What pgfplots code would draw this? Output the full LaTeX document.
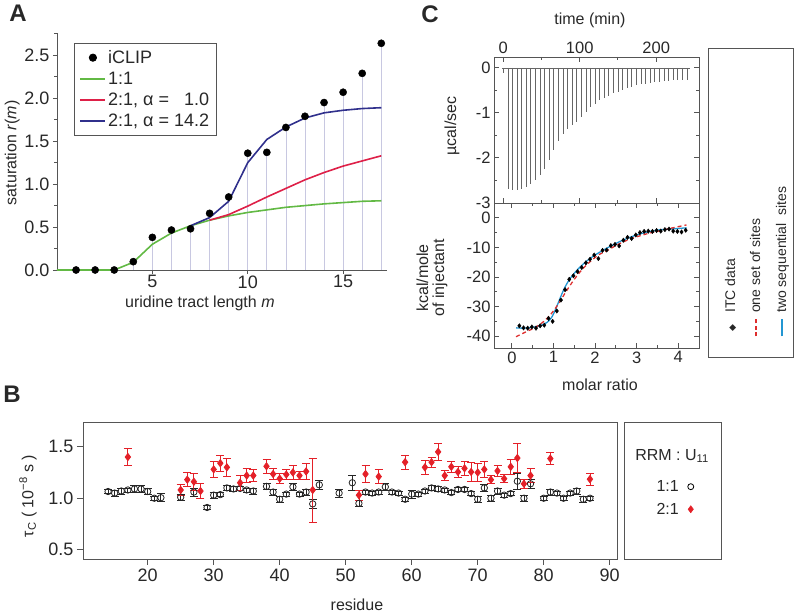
\documentclass[border=0pt]{standalone}
\usepackage{pgfplots}
\pgfplotsset{compat=1.18}
\usepackage{fontspec}
\setmainfont{Liberation Sans}
\setsansfont{Liberation Sans}
\newfontfamily\symfont{DejaVu Sans}
\definecolor{cgreen}{RGB}{98,185,68}
\definecolor{cred}{RGB}{222,32,72}
\definecolor{cblue}{RGB}{48,48,140}
\definecolor{cstem}{RGB}{200,200,225}
\definecolor{bred}{RGB}{228,32,40}
\definecolor{itcred}{RGB}{222,45,45}
\definecolor{itcblue}{RGB}{35,150,210}
\definecolor{fg}{RGB}{85,85,85}
\definecolor{tx}{RGB}{40,40,40}
\newcommand{\fs}[1]{\fontsize{#1}{#1}\selectfont}
\pgfplotsset{
  every axis/.append style={scale only axis, /pgf/number format/assume math mode=true,
    axis line style={fg, line width=0.9pt}, tick style={fg, line width=0.9pt},
    tick label style={text=tx, font=\fs{17}}, label style={text=tx, font=\fs{16}}},
  longline/.style={legend image code/.code={\draw[##1] (0pt,0pt) -- (25pt,0pt);}},
  dotleg/.style={legend image code/.code={\fill[##1] (12.5pt,0pt) circle (3.6pt);}},
}
\begin{document}
\begin{tikzpicture}
\path[use as bounding box] (0pt,0pt) rectangle (796pt,615pt);
\node[font=\fs{24}\bfseries, text=tx] at (18pt,602pt) {A};
\node[font=\fs{24}\bfseries, text=tx] at (12pt,221pt) {B};
\node[font=\fs{24}\bfseries, text=tx] at (430pt,601pt) {C};

% ---------------- Panel A ----------------
\begin{axis}[at={(57pt,345pt)}, anchor=south west, width=330pt, height=237pt,
  xmin=0, xmax=17.3, ymin=0, ymax=2.76,
  axis x line=bottom, axis y line=left, axis line style={-},
  clip=false,
  xtick={5,10,15}, xticklabels={5,10,15},
  ytick={0,0.5,1,1.5,2,2.5}, yticklabels={0.0,0.5,1.0,1.5,2.0,2.5},
  minor ytick={0.25,0.75,1.25,1.75,2.25,2.75},
  tick align=outside, major tick length=4pt, minor tick length=2.5pt,
  tick label style={font=\fs{18}},
  xticklabel style={yshift=2pt},
  xlabel={uridine tract length \textit{m}}, ylabel={saturation \textit{r}(\textit{m})},
  xlabel style={at={(axis description cs:0.433,-0.14)}, anchor=center},
  ylabel style={at={(axis description cs:-0.136,0.494)}, anchor=center},
  legend style={at={(axis description cs:0.052,0.958)}, anchor=north west, draw=fg, line width=0.9pt,
    font=\fs{18}, text=tx, row sep=3pt, inner xsep=5pt, inner ysep=5pt, cells={anchor=west}},
]
\addlegendimage{dotleg, black}\addlegendentry{iCLIP}
\addlegendimage{longline, cgreen, line width=1.6pt}\addlegendentry{1:1}
\addlegendimage{longline, cred, line width=1.6pt}\addlegendentry{2:1, α = \phantom{1}1.0}
\addlegendimage{longline, cblue, line width=1.6pt}\addlegendentry{2:1, α = 14.2}
\addplot[forget plot, ycomb, cstem, line width=0.8pt] coordinates {
 (4,0.097) (5,0.38) (6,0.465) (7,0.48) (8,0.66) (9,0.85) (10,1.36) (11,1.37)
 (12,1.66) (13,1.79) (14,1.95) (15,2.07) (16,2.29) (17,2.64)};
\addplot[forget plot, cgreen, line width=1.6pt] coordinates {
 (0,0) (3,0) (4,0.09) (5,0.30) (6,0.43) (7,0.515) (8,0.58) (9,0.63) (10,0.67) (11,0.70)
 (12,0.73) (13,0.75) (14,0.77) (15,0.785) (16,0.80) (17,0.806)};
\addplot[forget plot, cred, line width=1.6pt] coordinates {
 (8,0.58) (9,0.645) (10,0.744) (11,0.85) (12,0.95) (13,1.05) (14,1.135) (15,1.21) (16,1.27) (17,1.33)};
\addplot[forget plot, cblue, line width=1.6pt] coordinates {
 (7,0.515) (8,0.61) (9,0.80) (10,1.25) (11,1.52) (12,1.665) (13,1.77) (14,1.83) (15,1.86) (16,1.88) (17,1.89)};
\addplot[forget plot, only marks, mark=*, mark size=3.6pt, black] coordinates {
 (1,0) (2,0) (3,0) (4,0.097) (5,0.38) (6,0.465) (7,0.48) (8,0.66) (9,0.85) (10,1.36) (11,1.37)
 (12,1.66) (13,1.79) (14,1.95) (15,2.07) (16,2.29) (17,2.64)};
\end{axis}

% ---------------- Panel B ----------------
\begin{axis}[at={(83pt,56pt)}, anchor=south west, width=534pt, height=137pt,
  xmin=10.2, xmax=91.1, ymin=0.41, ymax=1.74,
  xtick={20,30,40,50,60,70,80,90}, xticklabels={20,30,40,50,60,70,80,90},
  ytick={0.5,1,1.5}, yticklabels={0.5,1.0,1.5},
  xtick pos=bottom, ytick pos=left, tick align=outside, major tick length=6pt,
  tick label style={font=\fs{18}},
  xlabel={residue}, ylabel={τ\textsubscript{C} ( 10\textsuperscript{−8} s )},
  xlabel style={at={(axis description cs:0.513,-0.336)}, anchor=center},
  ylabel style={at={(axis description cs:-0.103,0.46)}, anchor=center},
  legend style={at={(axis description cs:1.107,0.445)}, anchor=center, draw=none, fill=none,
    font=\fs{16}, text=tx, row sep=6pt, /tikz/every odd column/.append style={column sep=7pt}},
  legend plot pos=right,
]
\addlegendimage{only marks, mark=o, mark size=3pt, black, line width=0.8pt}\addlegendentry{1:1}
\addlegendimage{only marks, mark=diamond*, mark size=3.6pt, bred}\addlegendentry{2:1}
\addplot[forget plot, only marks, mark=o, mark size=3.2pt, black!85, line width=0.8pt,
  error bars/.cd, y dir=both, y explicit, error bar style={line width=0.8pt},
  error mark options={rotate=90, mark size=4pt, line width=0.8pt}]
  table[row sep=\\, x=r, y=v, y error=e] {
r v e\\
14 1.065 0.02\\ 15 1.05 0.03\\ 16 1.07 0.03\\ 17 1.08 0.02\\ 18 1.09 0.03\\ 19 1.09 0.03\\
20 1.065 0.03\\ 21 1.00 0.02\\ 22 1.005 0.04\\ 25 1.01 0.03\\ 27 1.06 0.04\\ 29 0.91 0.02\\
30 1.03 0.03\\ 31 1.035 0.02\\ 32 1.10 0.02\\ 33 1.09 0.02\\ 34 1.095 0.02\\ 35 1.08 0.02\\
36 1.07 0.03\\ 38 1.115 0.03\\ 39 1.06 0.03\\ 40 0.99 0.03\\ 41 1.04 0.02\\ 42 1.11 0.03\\
43 1.04 0.02\\ 44 1.06 0.03\\ 45 0.945 0.04\\ 46 1.13 0.04\\ 49 1.05 0.04\\ 51 1.15 0.07\\
52 0.95 0.03\\ 53 1.06 0.02\\ 54 1.05 0.02\\ 55 1.06 0.02\\ 56 1.11 0.03\\ 57 1.06 0.02\\
58 1.05 0.02\\ 59 0.99 0.02\\ 60 1.04 0.04\\ 61 1.04 0.02\\ 62 1.07 0.02\\ 63 1.10 0.02\\
64 1.09 0.02\\ 65 1.08 0.02\\ 66 1.055 0.02\\ 67 1.085 0.02\\ 68 1.085 0.02\\ 69 1.045 0.02\\
70 0.99 0.03\\ 71 1.10 0.03\\ 72 1.00 0.03\\ 73 1.07 0.03\\ 74 1.03 0.02\\ 75 1.045 0.02\\
76 1.165 0.08\\ 77 1.00 0.03\\ 78 1.14 0.04\\ 80 1.00 0.02\\ 81 1.06 0.03\\ 82 1.05 0.02\\
83 1.00 0.02\\ 84 1.05 0.02\\ 85 1.07 0.03\\ 86 0.99 0.03\\ 87 1.00 0.02\\
};
\addplot[forget plot, only marks, mark=diamond*, mark size=3.6pt, bred, line width=0.8pt,
  error bars/.cd, y dir=both, y explicit, error bar style={line width=0.8pt, bred},
  error mark options={rotate=90, mark size=4pt, line width=0.8pt, bred}]
  table[row sep=\\, x=r, y=v, y error=e] {
r v e\\
17 1.40 0.08\\ 25 1.08 0.05\\ 26 1.18 0.07\\ 27 1.16 0.08\\ 28 1.07 0.07\\ 30 1.28 0.08\\
31 1.34 0.08\\ 32 1.30 0.09\\ 34 1.15 0.07\\ 35 1.22 0.07\\ 36 1.22 0.06\\ 38 1.31 0.07\\
39 1.235 0.05\\ 40 1.19 0.05\\ 41 1.23 0.05\\ 42 1.25 0.07\\ 43 1.22 0.04\\ 44 1.26 0.08\\
45 1.08 0.31\\ 52 1.03 0.05\\ 53 1.235 0.08\\ 55 1.21 0.07\\ 59 1.35 0.07\\ 62 1.30 0.07\\
63 1.35 0.05\\ 64 1.45 0.08\\ 65 1.22 0.05\\ 66 1.305 0.05\\ 67 1.255 0.05\\ 68 1.29 0.07\\
69 1.255 0.09\\ 70 1.25 0.09\\ 71 1.28 0.08\\ 72 1.18 0.04\\ 73 1.265 0.05\\ 74 1.19 0.04\\
75 1.305 0.07\\ 76 1.39 0.14\\ 77 1.14 0.04\\ 78 1.22 0.07\\ 81 1.385 0.06\\ 87 1.185 0.06\\
};
\end{axis}
\draw[fg, line width=0.9pt] (624pt,56pt) rectangle (721pt,193pt);
\node[font=\fs{16}, text=tx] at (672pt,159pt) {RRM : U\textsubscript{11}};

% ---------------- Panel C top ----------------
\begin{axis}[at={(494pt,412pt)}, anchor=south west, width=205pt, height=146pt,
  xmin=-12, xmax=256, ymin=-3, ymax=0.24,
  xtick={0,100,200}, xticklabels={0,100,200}, minor x tick num=1,
  ytick={-3,-2,-1,0}, yticklabels={-3,-2,-1,0}, minor y tick num=1,
  xticklabel pos=upper, tick align=inside, major tick length=5pt, minor tick length=3pt,
  tick label style={font=\fs{16.5}},
  xlabel={time (min)}, ylabel={µcal/sec},
  xlabel style={at={(axis description cs:0.468,1.253)}, anchor=center},
  ylabel style={at={(axis description cs:-0.205,0.527)}, anchor=center},
]
\addplot[black!60, line width=0.5pt] coordinates {(-1,0) (244,0)};
\addplot[ycomb, black!60, line width=0.5pt] coordinates {
 (0,-0.12) (6,-2.69) (12,-2.72) (18,-2.72) (24,-2.70) (30,-2.65) (36,-2.57) (42,-2.50) (48,-2.38)
 (54,-2.24) (60,-2.05) (66,-1.83) (72,-1.63) (78,-1.48) (84,-1.36) (90,-1.28) (96,-1.20)
 (102,-1.09) (108,-0.97) (114,-0.88) (120,-0.80) (126,-0.72) (132,-0.67) (138,-0.62) (144,-0.57)
 (150,-0.53) (156,-0.49) (162,-0.45) (168,-0.42) (174,-0.39) (180,-0.37) (186,-0.35) (192,-0.33)
 (198,-0.32) (204,-0.31) (210,-0.30) (216,-0.29) (222,-0.28) (228,-0.27) (234,-0.27) (240,-0.26)};
\end{axis}

% ---------------- Panel C bottom ----------------
\begin{axis}[at={(494pt,267pt)}, anchor=south west, width=205pt, height=145pt,
  xmin=-0.43, xmax=4.5, ymin=-44, ymax=5,
  xtick={0,1,2,3,4}, xticklabels={0,1,2,3,4}, minor x tick num=1,
  ytick={-40,-30,-20,-10,0}, yticklabels={-40,-30,-20,-10,0}, minor y tick num=1,
  tick align=inside, major tick length=5pt, minor tick length=3pt,
  tick label style={font=\fs{16.5}},
  xlabel={molar ratio}, ylabel={kcal/mole\\of injectant},
  xlabel style={at={(axis description cs:0.517,-0.255)}, anchor=center},
  ylabel style={at={(axis description cs:-0.302,0.483)}, anchor=center, align=center},
]
\addplot[itcblue, line width=1.3pt, smooth] coordinates {
 (0.1,-37.2) (0.3,-37.3) (0.5,-37.0) (0.7,-36.4) (0.85,-35.3) (0.95,-33.8) (1.05,-31.0) (1.15,-27.5)
 (1.25,-24.2) (1.35,-21.6) (1.45,-19.6) (1.6,-17.2) (1.8,-14.6) (2.0,-12.6) (2.2,-10.9) (2.4,-9.4)
 (2.6,-8.0) (2.8,-6.8) (3.0,-5.8) (3.2,-5.0) (3.4,-4.4) (3.6,-4.0) (3.8,-3.8) (4.0,-3.6) (4.2,-3.4)};
\addplot[itcred, line width=1.3pt, dash pattern=on 4pt off 3pt, smooth] coordinates {
 (0.1,-40.2) (0.3,-38.8) (0.5,-37.5) (0.7,-35.8) (0.9,-33.2) (1.1,-29.5) (1.3,-25.0) (1.5,-20.8)
 (1.7,-17.3) (1.9,-14.6) (2.1,-12.4) (2.3,-11.0) (2.5,-9.4) (2.7,-8.0) (2.9,-6.9) (3.1,-6.0)
 (3.3,-5.2) (3.5,-4.6) (3.7,-3.9) (3.9,-3.3) (4.1,-2.7) (4.2,-2.4)};
\addplot[only marks, mark=diamond*, mark size=2.2pt, black] coordinates {
 (0.18,-36.5) (0.28,-37.2) (0.38,-37.3) (0.48,-36.9) (0.58,-37.3) (0.68,-36.5) (0.78,-36.3) (0.88,-34.0)
 (0.98,-35.0) (1.08,-31.5) (1.18,-27.8) (1.28,-24.3) (1.38,-20.8) (1.48,-19.6) (1.58,-18.2) (1.68,-16.8)
 (1.78,-15.2) (1.88,-14.0) (1.98,-12.6) (2.08,-13.8) (2.18,-11.0) (2.28,-10.9) (2.38,-9.4) (2.48,-9.0)
 (2.58,-9.5) (2.68,-7.6) (2.78,-6.6) (2.88,-7.0) (2.98,-5.8) (3.08,-5.0) (3.18,-4.6) (3.28,-4.5)
 (3.38,-4.6) (3.48,-4.3) (3.58,-4.5) (3.68,-4.0) (3.78,-3.8) (3.88,-4.5) (3.98,-4.6) (4.08,-4.8) (4.18,-4.2)};
\end{axis}

% ---------------- Panel C legend ----------------
\draw[fg, line width=0.9pt] (708pt,258pt) rectangle (793pt,567pt);
\node[rotate=90, anchor=base west, inner sep=0pt, font=\fs{14}, text=tx] at (735pt,277pt)
  {\makebox[20pt][c]{{\symfont\fs{9}◆}}\hspace{5pt}ITC data};
\node[rotate=90, anchor=base west, inner sep=0pt, font=\fs{14}, text=tx] at (760pt,277pt)
  {\makebox[20pt][c]{\color{itcred}\rule[3.4pt]{4pt}{1.8pt}\hspace{2.5pt}\rule[3.4pt]{4pt}{1.8pt}\hspace{2.5pt}\rule[3.4pt]{4pt}{1.8pt}}\hspace{5pt}one set of sites};
\node[rotate=90, anchor=base west, inner sep=0pt, font=\fs{14}, text=tx] at (786pt,277pt)
  {\makebox[20pt][c]{\color{itcblue}\rule[3.4pt]{17pt}{1.8pt}}\hspace{5pt}two sequential\ \ sites};
\end{tikzpicture}
\end{document}
